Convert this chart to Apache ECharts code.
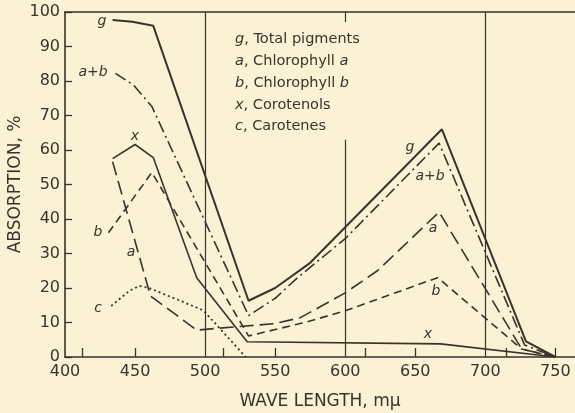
<!DOCTYPE html>
<html><head><meta charset="utf-8">
<script src="https://cdn.jsdelivr.net/npm/echarts@6/dist/echarts.min.js"></script>
<style>html,body{margin:0;padding:0;background:#fbf1d4;}#c{width:575px;height:413px;}</style>
</head><body><div id="c"></div>
<script>
// wavelength (mμ), absorption (%)
var gTotal = [[434,97.7],[448,97.2],[463,96.0],[531,16.3],[550,20.0],[575,27.3],[669,66.0],[729,4.5],[750,0]];
var abSum  = [[436,82.2],[449,78.8],[462,72.6],[531,12.0],[550,17.0],[566,23.0],[600,34.3],[667,62.0],[728,3.5],[750,0]];
var chlA   = [[434,56.6],[461,17.7],[494,7.8],[550,9.7],[568,11.4],[600,18.6],[623,25.0],[667,42.0],[726,2.3],[750,0]];
var chlB   = [[431,36.0],[462,53.5],[531,6.1],[573,10.2],[600,13.4],[666,23.0],[726,2.3],[750,0]];
var carotenols = [[434,57.5],[450,61.6],[463,57.8],[494,23.0],[530,4.4],[668,3.8],[750,0]];
var carotenes  = [[433,14.8],[446,19.2],[453,20.6],[460,20.0],[496,14.0],[499,13.4],[529,0]];
var xLabels = [400,450,500,550,600,650,700,750];
var xTicks = [412,450,513,550,614,650,715,750];
var fullLines = [500,700];
var partLine = [600,63];
var legendLines = [
  ['g', ', Total pigments', ''],
  ['a', ', Chlorophyll ', 'a'],
  ['b', ', Chlorophyll ', 'b'],
  ['x', ', Corotenols', ''],
  ['c', ', Carotenes', '']
];

var ink = '#3a332a';
var font = 'DejaVu Sans';
var chart = echarts.init(document.getElementById('c'), null, {renderer:'canvas'});
function ls(type, w){ return {color: ink, width: w, type: type}; }
function ser(name, data, type, w){
  return {name:name, type:'line', data:data, symbol:'none', lineStyle: ls(type,w), animation:false, z:3};
}
var series = [
  ser('g', gTotal, 'solid', 2),
  ser('a+b', abSum, [12,4,2,4], 1.6),
  ser('a', chlA, [14,6], 1.6),
  ser('b', chlB, [8,5], 1.6),
  ser('x', carotenols, 'solid', 1.6),
  ser('c', carotenes, [2,3], 1.8)
];
series[0].markLine = {
  symbol:'none', silent:true, animation:false,
  label:{show:false},
  lineStyle:{color:ink, width:1.2, type:'solid'},
  data: fullLines.map(function(v){return {xAxis:v};}).concat([[{coord:[partLine[0],partLine[1]]},{coord:[partLine[0],0]}]])
};

var graphics = [];
var annots = [
  ['g',102,21],['a+b',93,72],['x',135,136],['b',98,232],['a',131,252],['c',98,308],
  ['g',410,147],['a+b',430,176],['a',433,228],['b',436,291],['x',428,334]
];
annots.forEach(function(a){
  graphics.push({type:'text', x:a[1], y:a[2], style:{text:a[0], fill:ink, font:'italic 14px '+font, textAlign:'center', textVerticalAlign:'middle'}, z:10});
});
var ly = [39,61,83,105,126];
legendLines.forEach(function(l,i){
  graphics.push({type:'text', x:235, y:ly[i], style:{
    text:'{i|'+l[0]+'}'+l[1]+(l[2]?'{i|'+l[2]+'}':''),
    fill:ink, font:'14.5px '+font, textVerticalAlign:'middle',
    rich:{i:{fontStyle:'italic', fontSize:14.5, fontFamily:font, fill:ink}}
  }, z:10});
});

chart.setOption({
  backgroundColor:'#fbf1d4',
  animation:false,
  grid:{left:65, right:0, top:12, bottom:56, containLabel:false, outerBoundsMode:'none'},
  xAxis:[{
    type:'value', min:400, max:764, interval:50, position:'bottom',
    name:'WAVE LENGTH, mμ', nameLocation:'middle', nameGap:36, nameMoveOverlap:false,
    nameTextStyle:{color:ink, fontSize:17, fontFamily:font},
    axisLine:{show:true, onZero:false, lineStyle:{color:ink, width:1.6}},
    axisTick:{show:true, inside:true, length:9, customValues:xTicks, lineStyle:{color:ink, width:1.3}},
    axisLabel:{customValues:xLabels, color:ink, fontSize:16, fontFamily:font, margin:7},
    splitLine:{show:false}
  },{
    type:'value', min:400, max:764, interval:50, position:'top',
    axisLine:{show:true, onZero:false, lineStyle:{color:ink, width:1.6}},
    axisTick:{show:true, inside:true, length:10, customValues:[600], lineStyle:{color:ink, width:1.2}},
    axisLabel:{show:false}, splitLine:{show:false}
  }],
  yAxis:{
    type:'value', min:0, max:100, interval:10,
    name:'ABSORPTION, %', nameLocation:'middle', nameGap:41, nameRotate:90, nameMoveOverlap:false,
    nameTextStyle:{color:ink, fontSize:17, fontFamily:font},
    axisLine:{show:true, lineStyle:{color:ink, width:1.6}},
    axisTick:{show:true, inside:true, length:7, lineStyle:{color:ink, width:1.3}},
    axisLabel:{color:ink, fontSize:16, fontFamily:font, margin:5},
    splitLine:{show:false}
  },
  series: series,
  graphic: graphics
});
</script></body></html>
